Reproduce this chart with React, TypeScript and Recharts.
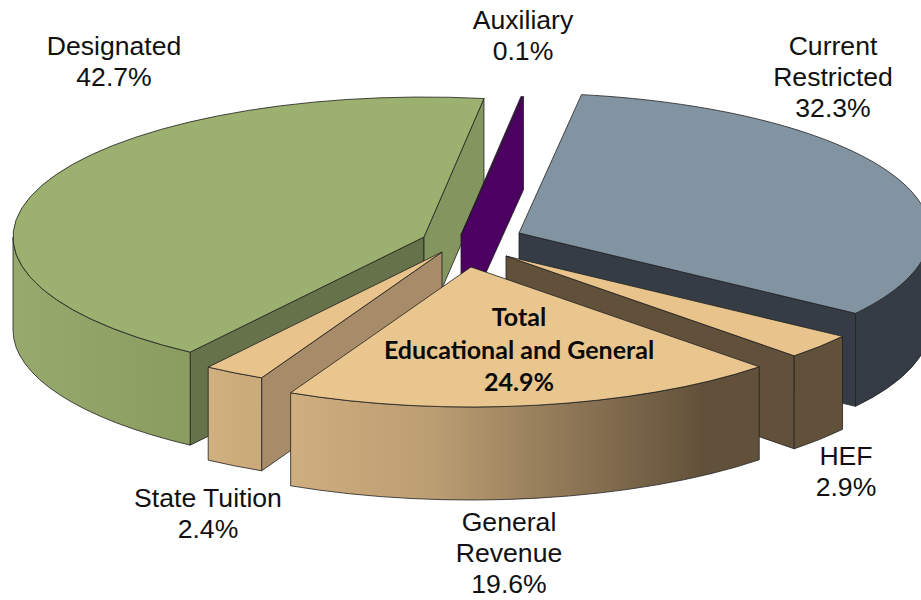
import React from 'react';
import { PieChart, Pie } from 'recharts';

const categories = ['Designated', 'Auxiliary', 'Current Restricted', 'HEF', 'General Revenue', 'State Tuition'];
const shares = [42.7, 0.1, 32.3, 2.9, 19.6, 2.4];
const totalLabel = ['Total', 'Educational and General', '24.9%'];

const data = categories.map((name, i) => ({ name, value: shares[i] }));

const SQUASH = 140 / 411;
const DEPTH = 93;
const FRONT = 'General Revenue';

// explode offsets, per slice
const OFFSET: Record<string, [number, number]> = {
  Designated: [-47, -6],
  Auxiliary: [-10, -8],
  'Current Restricted': [48, -10],
  HEF: [35, 13],
  'General Revenue': [0, 24],
  'State Tuition': [-29, 9],
};

const COLORS: Record<string, { top: string; startWall: string; endWall: string; outer: [string, number][] }> = {
  Designated: { top: '#9cb06f', startWall: '#65724a', endWall: '#84965f', outer: [['#97a96c', 0], ['#8b9c60', 1]] },
  Auxiliary: { top: '#4b0062', startWall: '#4b0062', endWall: '#4b0062', outer: [['#4b0062', 0], ['#4b0062', 1]] },
  'Current Restricted': { top: '#8294a2', startWall: '#353c46', endWall: '#353c46', outer: [['#353c46', 0], ['#353c46', 1]] },
  HEF: { top: '#e8c48c', startWall: '#62513a', endWall: '#62513a', outer: [['#62513a', 0], ['#62513a', 1]] },
  'General Revenue': { top: '#e9c68e', startWall: '#62513a', endWall: '#62513a', outer: [['#cfae7f', 0], ['#bc9e73', 0.3], ['#62513a', 0.88], ['#62513a', 1]] },
  'State Tuition': { top: '#e8c48c', startWall: '#a88c6a', endWall: '#a88c6a', outer: [['#d0b07e', 0], ['#caa97a', 1]] },
};

const LABEL_POS: Record<string, [number, number, string[]]> = {
  Designated: [114, 46, ['Designated']],
  Auxiliary: [523, 20, ['Auxiliary']],
  'Current Restricted': [833, 46, ['Current', 'Restricted']],
  HEF: [846, 456, ['HEF']],
  'General Revenue': [509, 522, ['General', 'Revenue']],
  'State Tuition': [208, 498, ['State Tuition']],
};

const LINE_STROKE = '#1f1f1f';

const sinDeg = (t: number) => Math.sin((t * Math.PI) / 180);

const Slice = (props: any) => {
  const { cx, cy, outerRadius: r, startAngle, endAngle, name } = props;
  const key = name ?? props.payload?.name;
  const c = COLORS[key];
  const [dx, dy] = OFFSET[key];
  const ox = cx + dx;
  const oy = cy + dy;
  const ry = r * SQUASH;

  // degrees clockwise from 12 o'clock
  let t1 = 90 - startAngle;
  let t2 = 90 - endAngle;
  if (t1 >= 360) {
    t1 -= 360;
    t2 -= 360;
  }
  const pt = (t: number) => {
    const a = (t * Math.PI) / 180;
    return [ox + r * Math.sin(a), oy - ry * Math.cos(a)];
  };
  const [ax, ay] = pt(t1);
  const [bx, by] = pt(t2);
  const large = t2 - t1 > 180 ? 1 : 0;

  const wall = (x: number, y: number) =>
    `M${ox},${oy} L${x},${y} L${x},${y + DEPTH} L${ox},${oy + DEPTH} Z`;

  // only the part of the rim facing the viewer
  const f1 = Math.max(t1, 90);
  const f2 = Math.min(t2, 270);
  let rim = null;
  if (f2 > f1) {
    const [p1x, p1y] = pt(f1);
    const [p2x, p2y] = pt(f2);
    const id = `rim-${key.replace(/\s/g, '')}`;
    rim = (
      <>
        <defs>
          <linearGradient id={id} gradientUnits="userSpaceOnUse" x1={Math.min(p1x, p2x)} x2={Math.max(p1x, p2x)} y1="0" y2="0">
            {c.outer.map(([col, at]) => (
              <stop key={at} offset={at} stopColor={col} />
            ))}
          </linearGradient>
        </defs>
        <path
          d={`M${p1x},${p1y} A${r},${ry} 0 0 1 ${p2x},${p2y} L${p2x},${p2y + DEPTH} A${r},${ry} 0 0 0 ${p1x},${p1y + DEPTH} Z`}
          fill={`url(#${id})`}
          stroke={LINE_STROKE}
          strokeWidth={0.8}
        />
      </>
    );
  }

  return (
    <g>
      {sinDeg(t1) < 0 && <path d={wall(ax, ay)} fill={c.startWall} stroke={LINE_STROKE} strokeWidth={0.8} />}
      {sinDeg(t2) > 0 && <path d={wall(bx, by)} fill={c.endWall} stroke={LINE_STROKE} strokeWidth={0.8} />}
      {rim}
      <path
        d={`M${ox},${oy} L${ax},${ay} A${r},${ry} 0 ${large} 1 ${bx},${by} Z`}
        fill={c.top}
        stroke={LINE_STROKE}
        strokeWidth={0.8}
      />
    </g>
  );
};

const backShape = (props: any) => ((props.name ?? props.payload?.name) === FRONT ? <g /> : <Slice {...props} />);
const frontShape = (props: any) => ((props.name ?? props.payload?.name) === FRONT ? <Slice {...props} /> : <g />);

const renderLabel = (props: any) => {
  const key = props.name ?? props.payload?.name;
  const [x, y, lines] = LABEL_POS[key];
  const value = props.value ?? props.payload?.value;
  const all = [...lines, `${Number(value).toFixed(1)}%`];
  return (
    <g key={key}>
      <text x={x} y={y} textAnchor="middle" fontFamily="'Liberation Sans', Arial, sans-serif" fontSize={26.6} fill="#111">
        {all.map((l, i) => (
          <tspan key={i} x={x} y={y + i * 31} dominantBaseline="central">
            {l}
          </tspan>
        ))}
      </text>
      {key === FRONT && (
        <text x={519} y={316} textAnchor="middle" fontFamily="Lato, sans-serif" fontWeight={700} fontSize={25} fill="#0a0a0a">
          {totalLabel.map((l, i) => (
            <tspan key={i} x={519} y={316 + i * 32.5} dominantBaseline="central">
              {l}
            </tspan>
          ))}
        </text>
      )}
    </g>
  );
};

export default function App() {
  const pieProps = {
    data,
    dataKey: 'value',
    nameKey: 'name',
    cx: 471,
    cy: 243,
    innerRadius: 0,
    outerRadius: 411,
    startAngle: -124.67,
    endAngle: -484.67,
    stroke: 'none',
    isAnimationActive: false,
  };
  return (
    <div style={{ position: 'absolute', left: 0, top: 0, width: 921, height: 600, background: '#fff', overflow: 'hidden' }}>
      <PieChart width={921} height={600} margin={{ top: 0, right: 0, bottom: 0, left: 0 }}>
        <Pie {...pieProps} shape={backShape} label={false} labelLine={false} />
        <Pie {...pieProps} shape={frontShape} label={renderLabel} labelLine={false} />
      </PieChart>
    </div>
  );
}
